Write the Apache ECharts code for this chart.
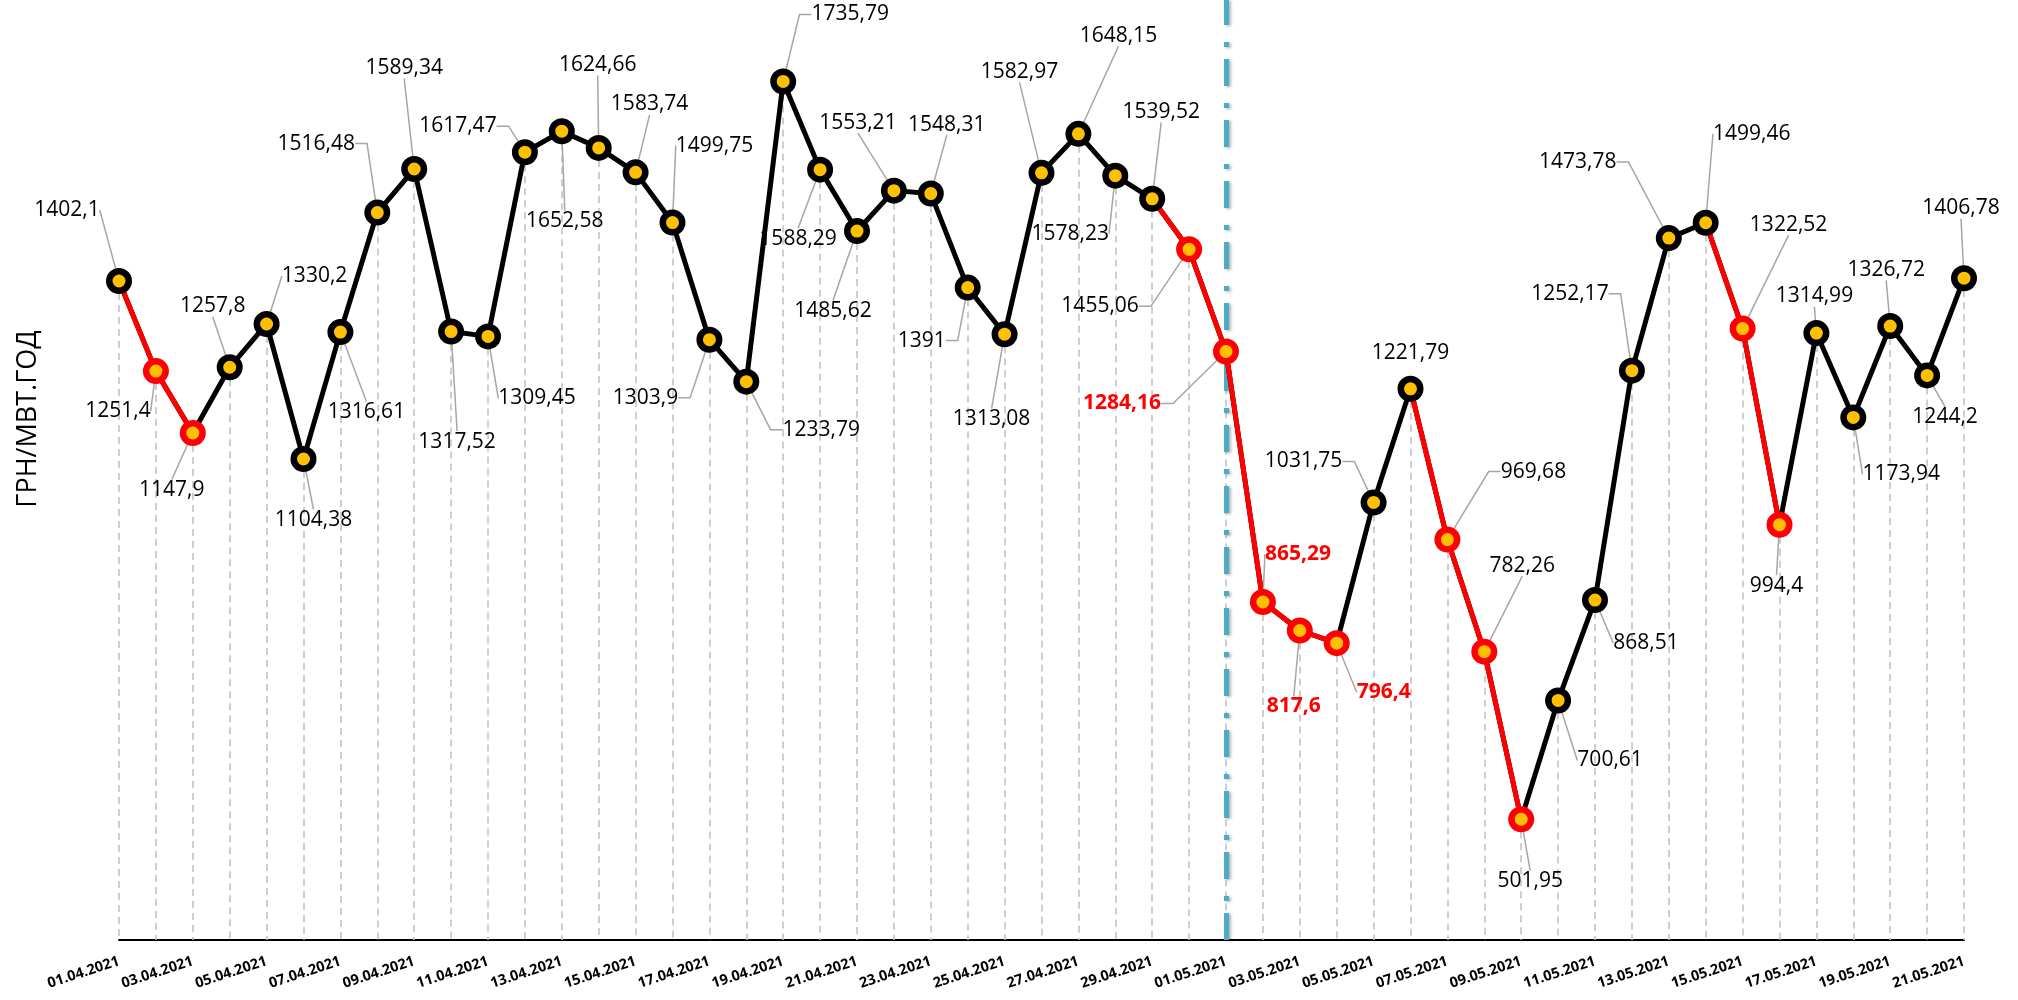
<!DOCTYPE html>
<html>
<head>
<meta charset="utf-8">
<title>ГРН/МВТ.ГОД</title>
<script src="https://cdn.jsdelivr.net/npm/echarts@6/dist/echarts.min.js"></script>
<style>
  html, body { margin: 0; padding: 0; background: #fff; }
  #chart { width: 2018px; height: 1000px; }
</style>
</head>
<body>
<div id="chart"></div>
<script>
  // дати (категорії осі X)
  const dates = [
    '01.04.2021', '02.04.2021', '03.04.2021', '04.04.2021', '05.04.2021', '06.04.2021', '07.04.2021',
    '08.04.2021', '09.04.2021', '10.04.2021', '11.04.2021', '12.04.2021', '13.04.2021', '14.04.2021',
    '15.04.2021', '16.04.2021', '17.04.2021', '18.04.2021', '19.04.2021', '20.04.2021', '21.04.2021',
    '22.04.2021', '23.04.2021', '24.04.2021', '25.04.2021', '26.04.2021', '27.04.2021', '28.04.2021',
    '29.04.2021', '30.04.2021', '01.05.2021', '02.05.2021', '03.05.2021', '04.05.2021', '05.05.2021',
    '06.05.2021', '07.05.2021', '08.05.2021', '09.05.2021', '10.05.2021', '11.05.2021', '12.05.2021',
    '13.05.2021', '14.05.2021', '15.05.2021', '16.05.2021', '17.05.2021', '18.05.2021', '19.05.2021',
    '20.05.2021', '21.05.2021'
  ];
  // ціна, грн/МВт.год
  const prices = [
    1402.1, 1251.4, 1147.9, 1257.8, 1330.2, 1104.38, 1316.61, 1516.48, 1589.34, 1317.52,
    1309.45, 1617.47, 1652.58, 1624.66, 1583.74, 1499.75, 1303.9, 1233.79, 1735.79, 1588.29,
    1485.62, 1553.21, 1548.31, 1391, 1313.08, 1582.97, 1648.15, 1578.23, 1539.52, 1455.06,
    1284.16, 865.29, 817.6, 796.4, 1031.75, 1221.79, 969.68, 782.26, 501.95, 700.61,
    868.51, 1252.17, 1473.78, 1499.46, 1322.52, 994.4, 1314.99, 1173.94, 1326.72, 1244.2,
    1406.78
  ];
  // дні, виділені червоним (індекси)
  const redDays = [1, 2, 29, 30, 31, 32, 33, 36, 37, 38, 44, 45];
  const boldRedLabels = [30, 31, 32, 33];
  const splitDay = '01.05.2021';

  // зсув підписів від точки, px
  const labelOffsets = [
    [-52, -71], [-38, 40], [-21, 57], [-17, -61], [48, -48], [10, 61], [26, 80], [-61, -69],
    [-10, -101], [6, 110], [49, 62], [-67, -26], [3, 90], [-1, -83], [14, -68], [42, -77],
    [-64, 58], [75, 48], [67, -67], [-22, 69], [-24, 80], [-36, -68], [16, -69], [-46, 53],
    [-13, 85], [-22, -101], [40, -98], [-45, 58], [9, -87], [-89, 57], [-104, 52], [35, -48],
    [-6, 76], [47, 49], [-70, -41], [0, -36], [86, -68], [38, -86], [9, 62], [52, 60],
    [51, 43], [-62, -77], [-91, -76], [46, -89], [46, -104], [-3, 61], [-2, -37], [48, 57],
    [-4, -56], [18, 42], [-3, -70]
  ];
  const elbowLabels = [7, 11, 16, 17, 18, 23, 29, 30, 34, 36, 41, 42];
  const noLineLabels = [35];

  const FONT = "'Open Sans', 'Noto Sans', sans-serif";
  const RED = '#FF0000';
  const GOLD = '#FFC000';
  const Y_MIN = 300;
  const Y_MAX = 1872;

  const isRed = prices.map((v, i) => redDays.indexOf(i) >= 0);
  // червоні відрізки: ті, що закінчуються червоною точкою
  const redLine = prices.map((v, i) => (isRed[i] || isRed[i + 1]) ? v : null);

  // пунктирні вертикалі від точки до осі
  const drops = prices.map((v, i) => [
    { coord: [i, v] },
    { coord: [i, Y_MIN] }
  ]);

  const points = prices.map((v, i) => {
    const item = {
      value: [i, v],
      itemStyle: { borderColor: isRed[i] ? RED : '#000' }
    };
    if (boldRedLabels.indexOf(i) >= 0) {
      item.label = { color: RED, fontWeight: 'bold' };
    }
    if (elbowLabels.indexOf(i) >= 0) {
      item.labelLine = { length2: 12 };
    } else if (noLineLabels.indexOf(i) >= 0) {
      item.labelLine = { show: false };
    }
    return item;
  });

  const chart = echarts.init(document.getElementById('chart'));
  chart.setOption({
    animation: false,
    backgroundColor: '#fff',
    grid: { left: 119, right: 54, top: 0, bottom: 60 },
    xAxis: {
      type: 'category',
      data: dates,
      boundaryGap: false,
      axisLine: { onZero: false, lineStyle: { color: '#000', width: 2 } },
      axisTick: { show: false },
      splitLine: { show: false },
      axisLabel: {
        interval: 1,
        rotate: 18,
        margin: 21,
        color: '#000',
        fontSize: 14.5,
        fontWeight: 'bold',
        fontFamily: FONT
      }
    },
    yAxis: {
      type: 'value',
      min: Y_MIN,
      max: Y_MAX,
      show: false
    },
    graphic: [{
      type: 'text',
      x: 28,
      y: 419,
      rotation: Math.PI / 2,
      style: {
        text: 'ГРН/МВТ.ГОД',
        fill: '#000',
        fontSize: 27,
        fontFamily: FONT,
        align: 'center',
        verticalAlign: 'middle',
        textAlign: 'center',
        textVerticalAlign: 'middle'
      }
    }],
    series: [
      {
        type: 'line',
        name: 'price',
        data: prices,
        z: 2,
        symbol: 'none',
        silent: true,
        lineStyle: { color: '#000', width: 5 },
        markLine: {
          z: 1,
          silent: true,
          symbol: ['none', 'none'],
          label: { show: false },
          lineStyle: { color: '#BFBFBF', width: 1.5, type: [7, 5] },
          data: drops.concat([{
            xAxis: splitDay,
            lineStyle: {
              color: '#4BACC6',
              width: 5,
              type: [27, 12, 5, 17],
              shadowColor: 'rgba(0,0,0,0.3)',
              shadowBlur: 3,
              shadowOffsetX: 2,
              shadowOffsetY: 1
            }
          }])
        }
      },
      {
        type: 'line',
        name: 'fall',
        data: redLine,
        z: 3,
        symbol: 'none',
        silent: true,
        connectNulls: false,
        lineStyle: { color: RED, width: 5 }
      },
      {
        type: 'scatter',
        name: 'points',
        data: points,
        z: 4,
        silent: true,
        symbol: 'circle',
        symbolSize: 19.5,
        itemStyle: { color: GOLD, borderWidth: 6.5, opacity: 1 },
        label: {
          show: true,
          position: 'inside',
          align: 'center',
          verticalAlign: 'middle',
          formatter: p => String(p.value[1]).replace('.', ','),
          color: '#000',
          fontSize: 21,
          fontFamily: FONT,
          textBorderWidth: 0,
          textBorderColor: 'transparent'
        },
        labelLine: {
          show: true,
          length2: 0,
          lineStyle: { color: '#A6A6A6', width: 1.5 }
        },
        labelLayout: p => ({
          dx: labelOffsets[p.dataIndex][0],
          dy: labelOffsets[p.dataIndex][1]
        })
      }
    ]
  });
</script>
</body>
</html>
